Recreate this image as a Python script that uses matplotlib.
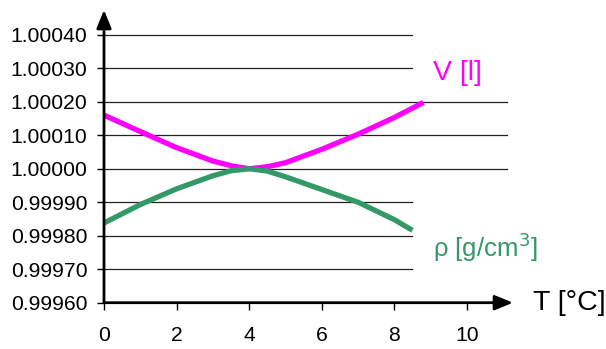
import matplotlib
matplotlib.use('Agg')
import matplotlib.pyplot as plt

plt.rcParams['font.family'] = ['Liberation Sans', 'DejaVu Sans']

# 温度 T [°C]
T = [0, 1, 2, 3, 3.5, 4, 4.5, 5, 6, 7, 8]
V = [1.000160, 1.000111, 1.000063, 1.000023, 1.000009, 1.000000, 1.000006, 1.000018,
     1.000058, 1.000103, 1.000153]
T_v_end, V_end = 8.8, 1.000198
rho = [0.999838, 0.999893, 0.999940, 0.999979, 0.999994, 1.000000, 0.999993, 0.999976,
       0.999938, 0.999900, 0.999848]
T_r_end, rho_end = 8.5, 0.999816

yticks = [0.99960, 0.99970, 0.99980, 0.99990, 1.00000, 1.00010, 1.00020, 1.00030, 1.00040]
xticks = [0, 2, 4, 6, 8, 10]

fig = plt.figure(figsize=(6.06, 3.49), dpi=100)
ax = fig.add_axes([104/606, 1-302.7/349, 409/606, 292.7/349])
ax.set_xlim(0, 11.27)
ax.set_ylim(0.99960, 1.000474)

# gridlines: some are cut short by the labels
short = {1.00040, 1.00030, 0.99990, 0.99980, 0.99970}
for y in yticks[1:]:
    xe = 8.5 if y in short else 11.1
    ax.plot([0, xe], [y, y], color='#222222', lw=0.9, zorder=1)

ax.plot(T + [T_v_end], V + [V_end], color='#ff00ff', lw=3.8, solid_capstyle='butt', zorder=3)
ax.plot(T + [T_r_end], rho + [rho_end], color='#339966', lw=3.8, solid_capstyle='butt', zorder=3)

for s in ax.spines.values():
    s.set_visible(False)
ax.annotate('', xy=(0, 1.000474), xytext=(0, 0.99960),
            arrowprops=dict(arrowstyle='-|>,head_length=1.1,head_width=0.45', color='black', lw=2,
                            shrinkA=0, shrinkB=0), annotation_clip=False, zorder=4)
ax.annotate('', xy=(11.27, 0.99960), xytext=(0, 0.99960),
            arrowprops=dict(arrowstyle='-|>,head_length=1.1,head_width=0.45', color='black', lw=2,
                            shrinkA=0, shrinkB=0), annotation_clip=False, zorder=4)

ax.set_xticks(xticks)
ax.set_yticks(yticks)
ax.set_yticklabels([f'{v:.5f}' for v in yticks])
ax.tick_params(axis='both', direction='out', length=5, width=1, labelsize=15.2, colors='black')
ax.tick_params(axis='x', pad=12)
ax.tick_params(axis='y', pad=7)

ax.text(9.06, 1.000286, 'V [l]', color='#ff00ff', fontsize=20.5, va='center', ha='left')
ax.text(9.06, 0.999766, 'ρ [g/cm$^3$]', color='#339966', fontsize=18.5, va='center', ha='left')
ax.text(11.83, 0.99960, 'T [°C]', color='black', fontsize=20.5, va='center', ha='left')

fig.savefig('out.png', dpi=100)
